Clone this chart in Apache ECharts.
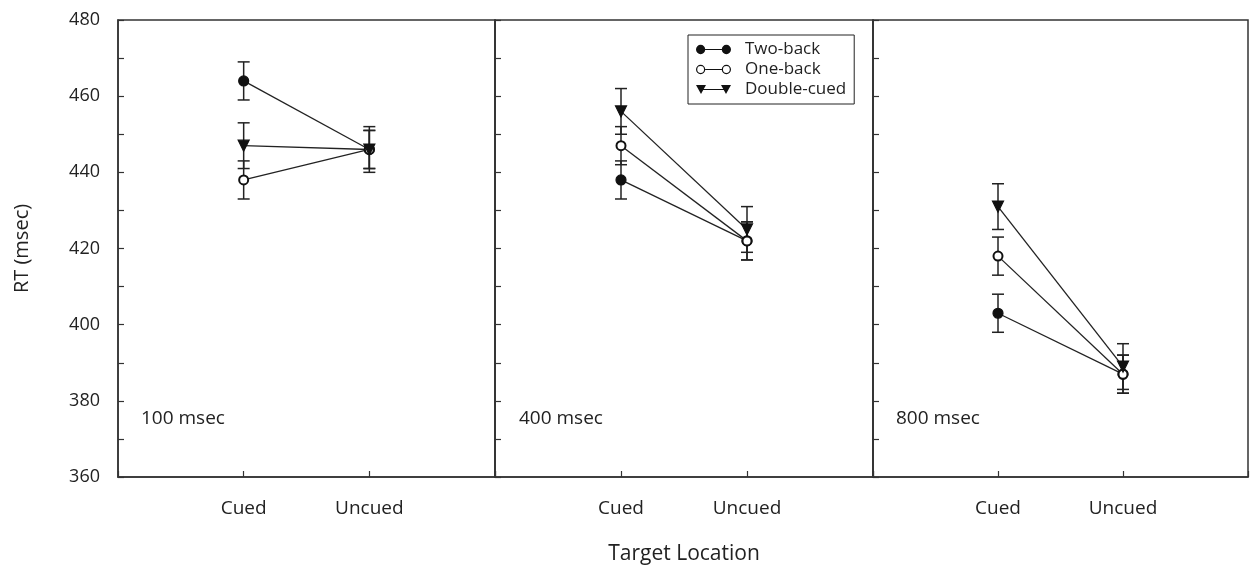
<!DOCTYPE html>
<html>
<head>
<meta charset="utf-8">
<script src="https://cdn.jsdelivr.net/npm/echarts@6/dist/echarts.min.js"></script>
<style>
  html, body { margin: 0; padding: 0; background: #ffffff; }
  #chart { width: 1251px; height: 568px; }
</style>
</head>
<body>
<div id="chart"></div>
<script>
// x categories (placed at 1 and 2 on a 0..3 value axis)
var categories = ['Cued', 'Uncued'];
var panelLabels = ['100 msec', '400 msec', '800 msec'];
var seriesNames = ['Two-back', 'One-back', 'Double-cued'];

// means per panel: [Cued, Uncued]
var twoBack = [[464, 446], [438, 422], [403, 387]];
var oneBack = [[438, 446], [447, 422], [418, 387]];
var doubleCued = [[447, 446], [456, 425], [431, 389]];

// error bar half-widths per panel: [Cued, Uncued]
var twoBackErr = [[5, 5], [5, 5], [5, 5]];
var oneBackErr = [[5, 6], [5, 5], [5, 5]];
var doubleCuedErr = [[6, 5], [6, 6], [6, 6]];

var yTicks = [360, 380, 400, 420, 440, 460, 480];

var FONT = 'Open Sans';
var INK = '#222';

// legend icons: marker - line - marker
var LINE_BAR = 'M5,4.4H30V5.6H5Z';
var legendIcons = [
  'path://M0.5,5a4.5,4.5 0 1,1 9,0a4.5,4.5 0 1,1 -9,0Z M25.5,5a4.5,4.5 0 1,1 9,0a4.5,4.5 0 1,1 -9,0Z ' + LINE_BAR,
  'path://M0.5,5a4.5,4.5 0 1,1 9,0a4.5,4.5 0 1,1 -9,0Z M1.7,5a3.3,3.3 0 1,0 6.6,0a3.3,3.3 0 1,0 -6.6,0Z ' +
    'M25.5,5a4.5,4.5 0 1,1 9,0a4.5,4.5 0 1,1 -9,0Z M26.7,5a3.3,3.3 0 1,0 6.6,0a3.3,3.3 0 1,0 -6.6,0Z M9.5,4.4H25.5V5.6H9.5Z',
  'path://M0,0.5H10L5,9.5Z M25,0.5H35L30,9.5Z ' + LINE_BAR
];

var chart = echarts.init(document.getElementById('chart'));

var grids = [
  { left: 118, width: 377, top: 20, height: 457 },
  { left: 495, width: 378, top: 20, height: 457 },
  { left: 873, width: 377, top: 20, height: 457 }
];

var xAxes = [], yAxes = [], series = [];

grids.forEach(function (g, i) {
  g.show = true;
  g.borderColor = '#333';
  g.borderWidth = 1.5;
  g.backgroundColor = 'transparent';

  xAxes.push({
    gridIndex: i,
    type: 'value',
    min: 0,
    max: 3,
    interval: 1,
    splitLine: { show: false },
    axisLine: { lineStyle: { color: '#333', width: 1.5 } },
    axisTick: { inside: true, length: 6, lineStyle: { color: '#333', width: 1.2 } },
    axisLabel: {
      margin: 22,
      fontFamily: FONT,
      fontSize: 19,
      color: INK,
      formatter: function (v) { return categories[v - 1] || ''; }
    }
  });

  yAxes.push({
    gridIndex: i,
    type: 'value',
    min: 360,
    max: 480,
    interval: 10,
    splitLine: { show: false },
    axisLine: { show: true, lineStyle: { color: '#333', width: 1.5 } },
    axisTick: { inside: true, length: 6, lineStyle: { color: '#333', width: 1.2 } },
    axisLabel: {
      show: i === 0,
      margin: 18,
      fontFamily: FONT,
      fontSize: 18,
      color: INK,
      formatter: function (v) { return yTicks.indexOf(v) >= 0 ? String(v) : ''; }
    },
    name: i === 0 ? 'RT (msec)' : '',
    nameLocation: 'middle',
    nameGap: 86,
    nameTextStyle: { fontFamily: FONT, fontSize: 20, color: INK }
  });

  var groups = [
    { name: seriesNames[0], vals: twoBack[i], errs: twoBackErr[i], symbol: 'circle', size: 10, rotate: 0 },
    { name: seriesNames[1], vals: oneBack[i], errs: oneBackErr[i], symbol: 'emptyCircle', size: 9, rotate: 0 },
    { name: seriesNames[2], vals: doubleCued[i], errs: doubleCuedErr[i], symbol: 'triangle', size: 11, rotate: 180 }
  ];

  groups.forEach(function (s) {
    // error bars, beneath markers
    series.push({
      type: 'custom',
      xAxisIndex: i,
      yAxisIndex: i,
      z: 1,
      silent: true,
      encode: { x: 0, y: [1, 2] },
      data: s.vals.map(function (v, k) { return [k + 1, v - s.errs[k], v + s.errs[k]]; }),
      renderItem: function (params, api) {
        var x = api.value(0);
        var top = api.coord([x, api.value(2)]);
        var bot = api.coord([x, api.value(1)]);
        var w = 6;
        var st = { stroke: '#222', lineWidth: 1.5 };
        return {
          type: 'group',
          children: [
            { type: 'line', shape: { x1: top[0], y1: top[1], x2: bot[0], y2: bot[1] }, style: st },
            { type: 'line', shape: { x1: top[0] - w, y1: top[1], x2: top[0] + w, y2: top[1] }, style: st },
            { type: 'line', shape: { x1: bot[0] - w, y1: bot[1], x2: bot[0] + w, y2: bot[1] }, style: st }
          ]
        };
      }
    });

    series.push({
      type: 'line',
      name: s.name,
      xAxisIndex: i,
      yAxisIndex: i,
      z: 3,
      symbol: s.symbol,
      symbolSize: s.size,
      symbolRotate: s.rotate,
      showAllSymbol: true,
      animation: false,
      color: '#111',
      itemStyle: { color: '#111', borderColor: '#111', borderWidth: 1.2 },
      lineStyle: { color: '#222', width: 1.3 },
      data: s.vals.map(function (v, k) { return [k + 1, v]; })
    });
  });
});

chart.setOption({
  animation: false,
  backgroundColor: '#ffffff',
  grid: grids,
  xAxis: xAxes,
  yAxis: yAxes,
  series: series,
  legend: {
    data: seriesNames.map(function (n, k) {
      return {
        name: n,
        icon: legendIcons[k],
        itemStyle: { color: '#111', borderWidth: 0 },
        lineStyle: { opacity: 0 }
      };
    }),
    orient: 'vertical',
    left: 688,
    top: 35,
    padding: [6, 8, 6, 8],
    itemGap: 3,
    itemWidth: 35,
    itemHeight: 10,
    symbolRotate: 0,
    borderColor: '#222',
    borderWidth: 1,
    backgroundColor: '#fff',
    selectedMode: false,
    textStyle: { fontFamily: FONT, fontSize: 17, color: INK, padding: [0, 0, 0, 9] }
  },
  graphic: [
    { type: 'text', x: 141, y: 419, style: { text: panelLabels[0], fontFamily: FONT, fontSize: 19, fill: INK, verticalAlign: 'middle' } },
    { type: 'text', x: 519, y: 419, style: { text: panelLabels[1], fontFamily: FONT, fontSize: 19, fill: INK, verticalAlign: 'middle' } },
    { type: 'text', x: 896, y: 419, style: { text: panelLabels[2], fontFamily: FONT, fontSize: 19, fill: INK, verticalAlign: 'middle' } },
    { type: 'text', x: 684, y: 554, style: { text: 'Target Location', fontFamily: FONT, fontSize: 21, fill: INK, align: 'center', verticalAlign: 'middle' } }
  ]
});
</script>
</body>
</html>
